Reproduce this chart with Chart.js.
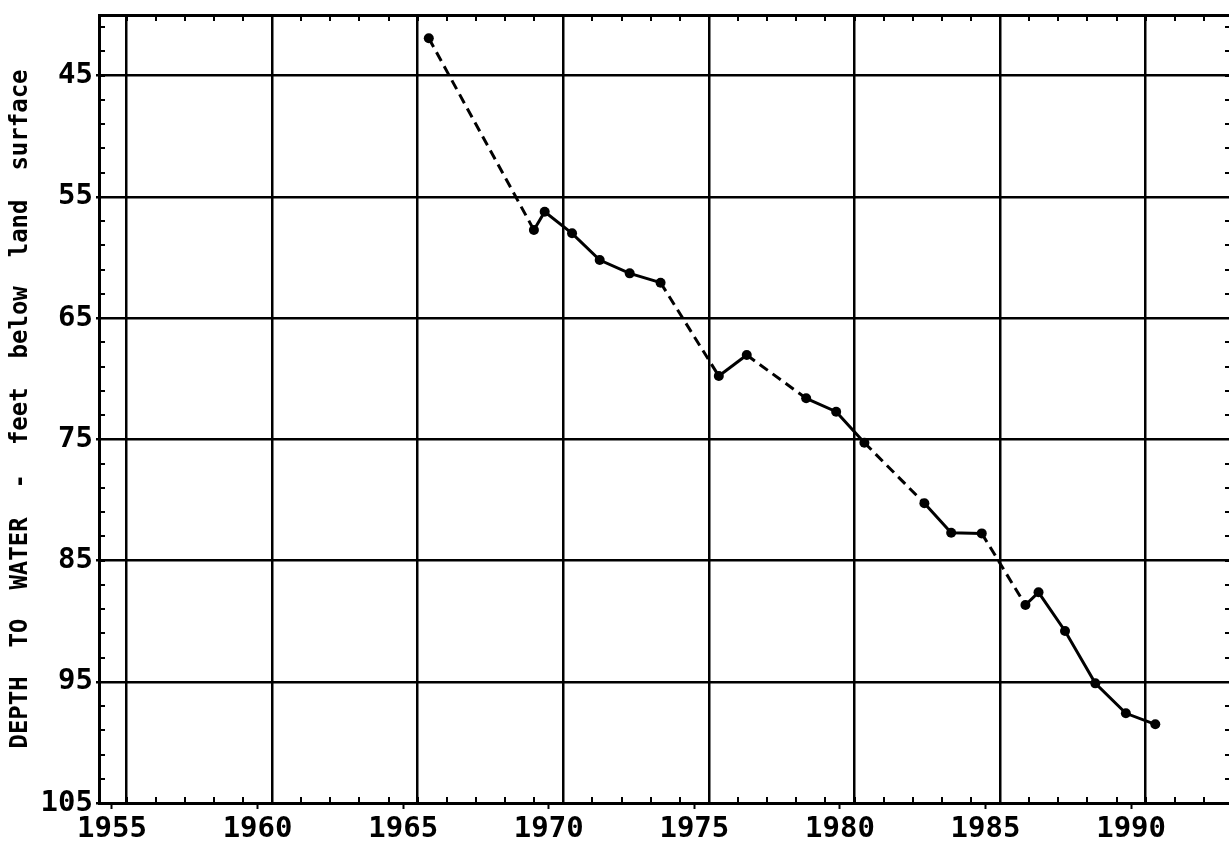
<!DOCTYPE html>
<html>
<head>
<meta charset="utf-8">
<script src="https://cdn.jsdelivr.net/npm/chart.js@4.4.1/dist/chart.umd.min.js"></script>
<style>
    html, body { margin: 0; padding: 0; background: #fff; overflow: hidden; }
    #wrap { position: absolute; left: 0; top: 0; width: 1236px; height: 845px; }
</style>
</head>
<body>
<div id="wrap"><canvas id="wellChart"></canvas></div>
<script>
// measurement dates (decimal years) and depth to water (feet below land surface)
var years = [1965.88, 1969.49, 1969.86, 1970.80, 1971.75, 1972.78, 1973.84, 1975.84, 1976.80, 1978.84,
             1979.87, 1980.84, 1982.90, 1983.82, 1984.87, 1986.37, 1986.82, 1987.73, 1988.77, 1989.82, 1990.83];
var depths = [41.92, 57.73, 56.23, 58.01, 60.21, 61.31, 62.08, 69.78, 68.05, 71.62,
              72.72, 75.28, 80.28, 82.71, 82.76, 88.67, 87.62, 90.81, 95.13, 97.60, 98.51];
// true = segment starting at that point is drawn dashed (gap in record)
var dashedSegments = [true, false, false, false, false, false, true, false, true, false,
                      false, true, false, false, true, false, false, false, false, false];

var yearLabels = [1955, 1960, 1965, 1970, 1975, 1980, 1985, 1990];
var yearGrid = [1955.5, 1960.5, 1965.5, 1970.5, 1975.5, 1980.5, 1985.5, 1990.5];
var depthLabels = [45, 55, 65, 75, 85, 95, 105];

var FONT = 'DejaVu Sans Mono';

// small inward tick marks on all four sides of the frame
var minorTicks = {
    id: 'minorTicks',
    afterDraw(chart) {
        const ctx = chart.ctx;
        const area = chart.chartArea;
        const xs = chart.scales.x;
        const ys = chart.scales.y;
        ctx.save();
        ctx.strokeStyle = '#000';
        ctx.lineWidth = 2;
        ctx.beginPath();
        for (let yr = 1955.5; yr < xs.max; yr += 1) {
            const px = Math.round(xs.getPixelForValue(yr));
            ctx.moveTo(px, area.top);
            ctx.lineTo(px, area.top + 6);
            ctx.moveTo(px, area.bottom);
            ctx.lineTo(px, area.bottom - 6);
        }
        for (let d = 41; d < ys.max; d += 2) {
            const py = Math.round(ys.getPixelForValue(d));
            ctx.moveTo(area.left, py);
            ctx.lineTo(area.left + 6, py);
            ctx.moveTo(area.right, py);
            ctx.lineTo(area.right - 6, py);
        }
        ctx.stroke();
        ctx.restore();
    }
};

var points = years.map((yr, i) => ({ x: yr, y: depths[i] }));

new Chart(document.getElementById('wellChart'), {
    type: 'line',
    data: {
        datasets: [{
            label: 'depth',
            data: points,
            borderColor: '#000',
            backgroundColor: '#000',
            borderWidth: 3,
            pointRadius: 5,
            pointHoverRadius: 5,
            pointBackgroundColor: '#000',
            pointBorderWidth: 0,
            tension: 0,
            fill: false,
            segment: {
                borderDash: ctx => dashedSegments[ctx.p0DataIndex] ? [10, 6] : undefined
            }
        }]
    },
    plugins: [minorTicks],
    options: {
        responsive: true,
        maintainAspectRatio: false,
        animation: false,
        layout: { padding: { left: 0, right: 4, top: 0, bottom: 0 } },
        plugins: {
            legend: { display: false },
            tooltip: { enabled: false }
        },
        scales: {
            x: {
                type: 'linear',
                position: 'bottom',
                min: 1954.554,
                max: 1993.43,
                afterBuildTicks: scale => { scale.ticks = yearLabels.map(v => ({ value: v })); },
                afterFit: scale => { scale.height = 42; },
                grid: {
                    drawOnChartArea: false,
                    drawTicks: true,
                    tickLength: 6,
                    tickWidth: 2,
                    tickColor: '#000'
                },
                border: { display: true, color: '#000', width: 3 },
                ticks: {
                    color: '#000',
                    padding: 3,
                    maxRotation: 0,
                    autoSkip: false,
                    font: { family: FONT, size: 29, weight: 'bold' },
                    callback: v => String(v)
                }
            },
            x2: {
                type: 'linear',
                position: 'top',
                min: 1954.554,
                max: 1993.43,
                afterBuildTicks: scale => { scale.ticks = yearGrid.map(v => ({ value: v })); },
                afterFit: scale => { scale.height = 15; },
                grid: {
                    drawOnChartArea: true,
                    drawTicks: false,
                    color: '#000',
                    lineWidth: 2.5
                },
                border: { display: true, color: '#000', width: 3 },
                ticks: { display: false }
            },
            y: {
                type: 'linear',
                position: 'left',
                reverse: true,
                min: 40,
                max: 105,
                afterBuildTicks: scale => { scale.ticks = depthLabels.map(v => ({ value: v })); },
                afterFit: scale => {
                    scale.width = 99;
                    scale.paddingTop = 0;
                    scale.paddingBottom = 0;
                },
                grid: {
                    drawOnChartArea: true,
                    drawTicks: true,
                    tickLength: 3,
                    color: '#000',
                    lineWidth: 2.5
                },
                border: { display: true, color: '#000', width: 3 },
                ticks: {
                    color: '#000',
                    padding: 3,
                    autoSkip: false,
                    font: { family: FONT, size: 29, weight: 'bold' },
                    callback: v => String(v)
                },
                title: {
                    display: true,
                    text: 'DEPTH  TO  WATER  -  feet  below  land  surface',
                    color: '#000',
                    padding: { top: 6, bottom: 0 },
                    font: { family: FONT, size: 24, weight: 'bold' }
                }
            }
        }
    }
});
</script>
</body>
</html>
